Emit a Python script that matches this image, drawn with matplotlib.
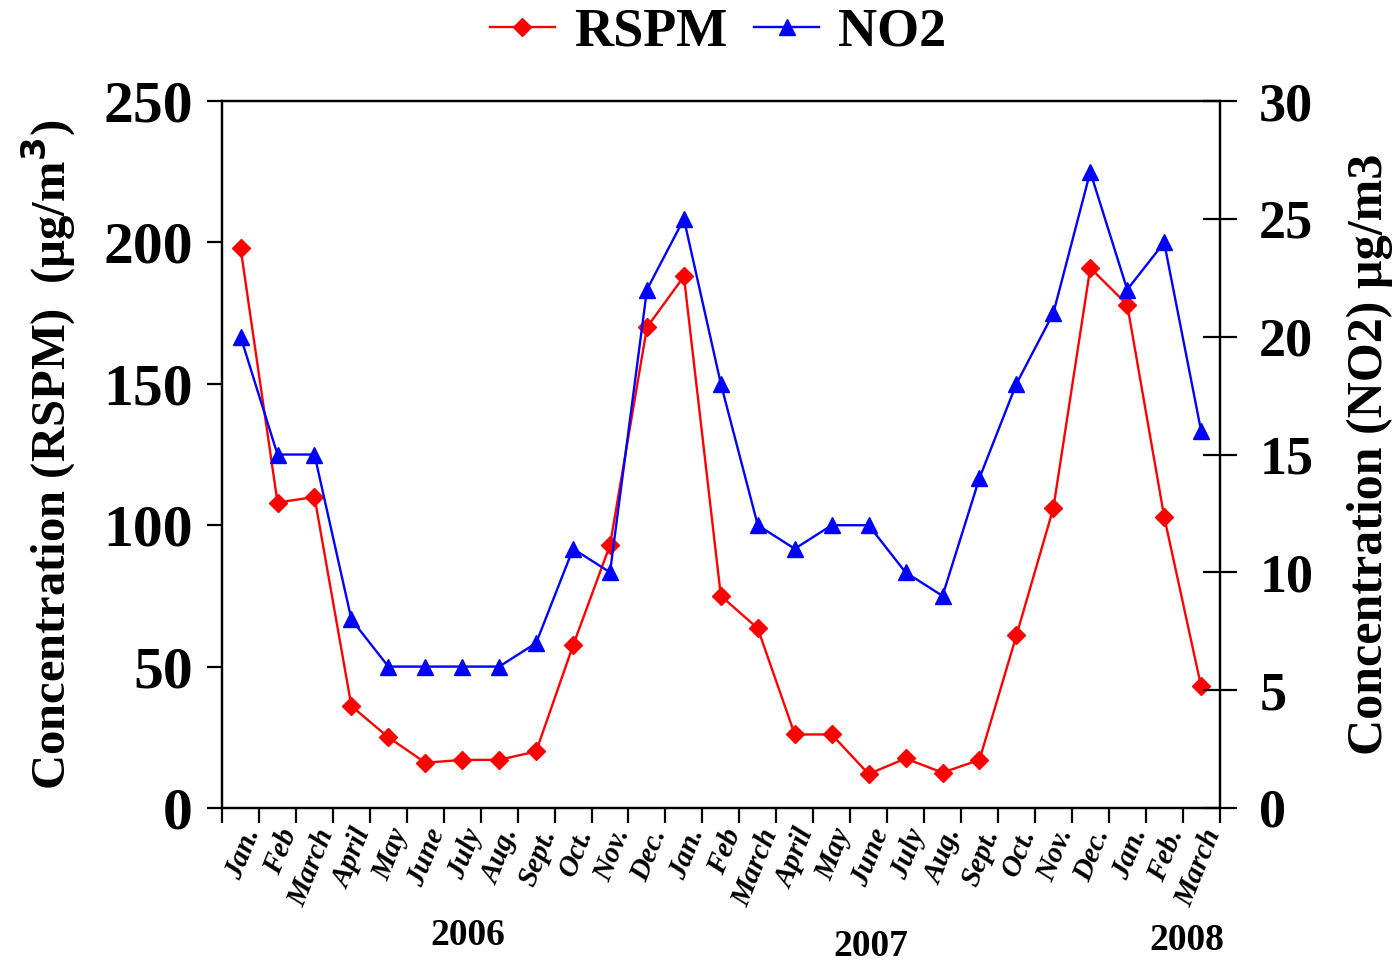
import matplotlib.pyplot as plt
import numpy as np

months = ['Jan.', 'Feb', 'March', 'April', 'May', 'June', 'July', 'Aug.', 'Sept.',
          'Oct.', 'Nov.', 'Dec.', 'Jan.', 'Feb', 'March', 'April', 'May', 'June',
          'July', 'Aug.', 'Sept.', 'Oct.', 'Nov.', 'Dec.', 'Jan.', 'Feb.', 'March']
rspm = [198, 108, 110, 36, 25, 16, 17, 17, 20, 57.5, 93, 170, 188, 75, 63.5,
        26, 26, 12, 17.5, 12.5, 17, 61, 106, 191, 178, 103, 43]
no2 = [20, 15, 15, 8, 6, 6, 6, 6, 7, 11, 10, 22, 25, 18, 12, 11, 12, 12, 10, 9,
       14, 18, 21, 27, 22, 24, 16]
years = ['2006', '2007', '2008']

plt.rcParams['font.family'] = ['Liberation Serif', 'DejaVu Serif']
plt.rcParams['font.weight'] = 'bold'

fig = plt.figure(figsize=(13.97, 9.63), dpi=100)
ax = fig.add_axes([0.159, 0.161, 0.714, 0.734])
ax2 = ax.twinx()

x = np.arange(len(months))
l1, = ax.plot(x, rspm, color='red', lw=1.7, marker='D', ms=9, mec='red', label='RSPM')
l2, = ax2.plot(x, no2, color='blue', lw=1.7, marker='^', ms=12, mec='blue', label='NO2')

ax.set_xlim(-0.5, len(months) - 0.5)
ax.set_ylim(0, 250)
ax2.set_ylim(0, 30)
ax.set_yticks(np.arange(0, 251, 50))
ax2.set_yticks(np.arange(0, 31, 5))

# ticks on the month boundaries, names in the middle
ax.set_xticks(np.arange(-0.5, len(months), 1.0))
ax.set_xticklabels([])
ax.set_xticks(x, minor=True)
ax.set_xticklabels(months, minor=True, rotation=68, ha='right', va='top',
                   rotation_mode='anchor', fontsize=21, style='italic', fontweight='bold')
ax.tick_params(axis='x', which='major', direction='out', length=11, width=1.6)
ax.tick_params(axis='x', which='minor', length=0, pad=12)
ax.tick_params(axis='y', direction='out', length=11, width=1.6, labelsize=43, pad=10)
ax2.tick_params(axis='y', direction='inout', length=25, width=1.6, labelsize=39, pad=16)

for a in (ax, ax2):
    for s in a.spines.values():
        s.set_linewidth(1.6)

ax.set_ylabel('Concentration (RSPM)  (µg/m$\\mathbf{^3}$)', fontsize=35, fontweight='bold', labelpad=18)
ax2.set_ylabel('Concentration (NO2) µg/m3', fontsize=36, fontweight='bold', labelpad=24)

year_pos = [6.15, 17.05, 25.6]
year_y = [-0.18, -0.196, -0.187]
for yr, px, py in zip(years, year_pos, year_y):
    ax.text(px, py, yr, transform=ax.get_xaxis_transform(), ha='center', va='center',
            fontsize=27, fontweight='bold')

fig.legend(handles=[l1, l2], loc='center', bbox_to_anchor=(0.514, 0.966), ncol=2,
           frameon=False, handlelength=1.2, handletextpad=0.35,
           columnspacing=0.5, prop={'weight': 'bold', 'size': 39})

fig.savefig('out.png', dpi=100)
